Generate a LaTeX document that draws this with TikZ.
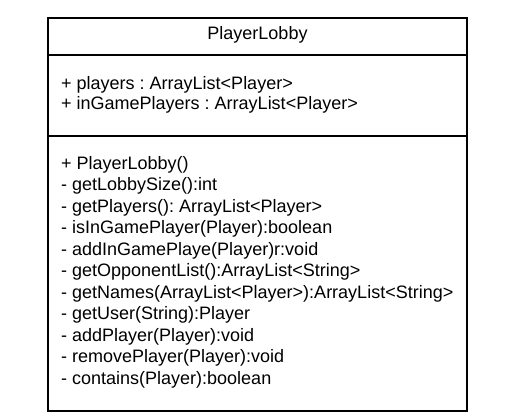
\documentclass[tikz,border=0pt]{standalone}
\usepackage{fontspec}
\setmainfont{Liberation Sans}
\frenchspacing
\begin{document}
\begin{tikzpicture}[x=1pt,y=-1pt,
  umltext/.style={anchor=base west,inner sep=0pt,font=\fontsize{18}{20}\selectfont},
  umlbox/.style={draw,line width=2pt,minimum width=419.6pt,minimum height=392.4pt,inner sep=0pt}]
\useasboundingbox (0,0) rectangle (506,420);
\node[umlbox] (box) at (257.5,214.5) {};
\coordinate (d1l) at (47.7,55.5);
\coordinate (d1r) at (467.3,55.5);
\coordinate (d2l) at (47.7,136);
\coordinate (d2r) at (467.3,136);
\draw[line width=2pt] (d1l) -- (d1r);
\draw[line width=2pt] (d2l) -- (d2r);
\node[umltext,anchor=base] (title) at (257.5,39.3) {PlayerLobby};
\node[umltext] (a1) at (61,89.5) {+ players : ArrayList<Player>};
\node[umltext] (a2) at (61,109.5) {+ inGamePlayers : ArrayList<Player>};
\foreach \t [count=\i from 0] in {
  {+ PlayerLobby()},
  {- getLobbySize():int},
  {- getPlayers(): ArrayList<Player>},
  {- isInGamePlayer(Player):boolean},
  {- addInGamePlaye(Player)r:void},
  {- getOpponentList():ArrayList<String>},
  {- getNames(ArrayList<Player>):ArrayList<String>},
  {- getUser(String):Player},
  {- addPlayer(Player):void},
  {- removePlayer(Player):void},
  {- contains(Player):boolean}}
  \node[umltext] (m\i) at (61,169.3+21.5*\i) {\t};
\end{tikzpicture}
\end{document}
